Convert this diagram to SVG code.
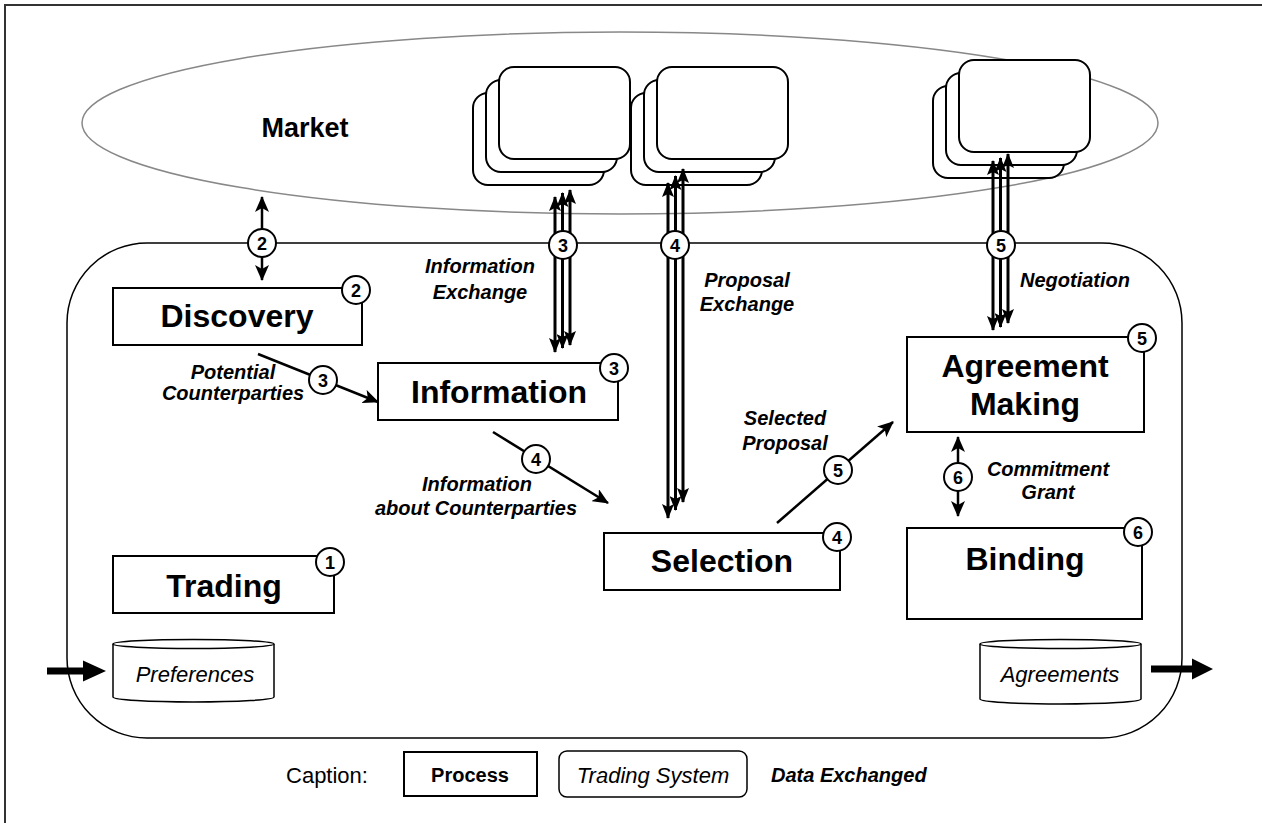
<svg xmlns="http://www.w3.org/2000/svg" width="1262" height="823" viewBox="0 0 1262 823">
  <style>
    text { font-family: "Liberation Sans", Arial, sans-serif; fill: #000; }
    .proc { fill: #fff; stroke: #000; stroke-width: 2; }
    .ptxt { font-size: 32px; font-weight: bold; text-anchor: middle; }
    .lbl { font-size: 20px; font-weight: bold; font-style: italic; text-anchor: middle; }
    .lbl-start { font-size: 20px; font-weight: bold; font-style: italic; text-anchor: start; }
    .badge { fill: #fff; stroke: #000; stroke-width: 2; }
    .btxt { font-size: 18px; font-weight: bold; text-anchor: middle; }
    .agent { fill: #fff; stroke: #000; stroke-width: 2; }
    .flow { fill: none; stroke: #000; stroke-width: 2.5; }
    .multi { fill: none; stroke: #000; stroke-width: 3; }
    .store { fill: #fff; stroke: #000; stroke-width: 1.5; }
    .stxt { font-size: 22px; font-style: italic; text-anchor: middle; }
  </style>
  <defs>
    <marker id="ah" viewBox="0 0 16 14" refX="15" refY="7" markerWidth="16" markerHeight="14" markerUnits="userSpaceOnUse" orient="auto-start-reverse">
      <path d="M0,0 L16,7 L0,14 L4,7 z" fill="#000"/>
    </marker>
    <marker id="ahs" viewBox="0 0 15 12" refX="14" refY="6" markerWidth="15" markerHeight="12" markerUnits="userSpaceOnUse" orient="auto-start-reverse">
      <path d="M0,0 L15,6 L0,12 L3,6 z" fill="#000"/>
    </marker>
    <g id="stack">
      <rect class="agent" x="0" y="26" width="131" height="92" rx="15"/>
      <rect class="agent" x="13" y="13" width="131" height="92" rx="15"/>
      <rect class="agent" x="26" y="0" width="131" height="92" rx="15"/>
    </g>
  </defs>

  <rect width="1262" height="823" fill="#fff"/>
  <!-- page frame -->
  <path d="M5,823 V5 H1262" fill="none" stroke="#333" stroke-width="2"/>

  <!-- market -->
  <g id="market">
    <ellipse cx="620" cy="123" rx="538" ry="91" fill="#fff" stroke="#888" stroke-width="1.5"/>
    <text x="305" y="137" font-size="27" font-weight="bold" text-anchor="middle">Market</text>
  </g>

  <!-- trading system boundary -->
  <g id="trading-system">
    <rect x="67" y="243" width="1115" height="495" rx="80" fill="none" stroke="#000" stroke-width="1.5"/>
  </g>

  <!-- counterpart agents in the market -->
  <g id="agents-info"><use href="#stack" x="473" y="67"/></g>
  <g id="agents-proposal"><use href="#stack" x="631" y="67"/></g>
  <g id="agents-negotiation"><use href="#stack" x="933" y="60"/></g>

  <!-- processes -->
  <g id="discovery">
    <rect class="proc" x="113" y="288" width="249" height="57"/>
    <text class="ptxt" x="237" y="327">Discovery</text>
    <circle class="badge" cx="356" cy="290" r="14"/>
    <text class="btxt" x="356" y="296.5">2</text>
  </g>
  <g id="information">
    <rect class="proc" x="378" y="363" width="240" height="57"/>
    <text class="ptxt" x="499" y="403">Information</text>
    <circle class="badge" cx="614" cy="368" r="14"/>
    <text class="btxt" x="614" y="374.5">3</text>
  </g>
  <g id="trading">
    <rect class="proc" x="113" y="556" width="221" height="57"/>
    <text class="ptxt" x="224" y="597">Trading</text>
    <circle class="badge" cx="330" cy="562" r="14"/>
    <text class="btxt" x="330" y="568.5">1</text>
  </g>
  <g id="selection">
    <rect class="proc" x="604" y="533" width="236" height="57"/>
    <text class="ptxt" x="722" y="572">Selection</text>
    <circle class="badge" cx="837" cy="537" r="14"/>
    <text class="btxt" x="837" y="543.5">4</text>
  </g>
  <g id="agreement-making">
    <rect class="proc" x="907" y="337" width="237" height="95"/>
    <text class="ptxt" x="1025" y="377">Agreement</text>
    <text class="ptxt" x="1025" y="415">Making</text>
    <circle class="badge" cx="1142" cy="338" r="14"/>
    <text class="btxt" x="1142" y="344.5">5</text>
  </g>
  <g id="binding">
    <rect class="proc" x="907" y="528" width="235" height="91"/>
    <text class="ptxt" x="1025" y="570">Binding</text>
    <circle class="badge" cx="1138" cy="532" r="14"/>
    <text class="btxt" x="1138" y="538.5">6</text>
  </g>

  <!-- data stores -->
  <g id="preferences">
    <path class="store" d="M113,644 V697 A80.5,5 0 0 0 274,697 V644"/>
    <ellipse class="store" cx="193.5" cy="644" rx="80.5" ry="4.5"/>
    <text class="stxt" x="195" y="682">Preferences</text>
  </g>
  <g id="agreements">
    <path class="store" d="M980,644 V699 A80.5,5 0 0 0 1141,699 V644"/>
    <ellipse class="store" cx="1060.5" cy="644" rx="80.5" ry="4.5"/>
    <text class="stxt" x="1060" y="682">Agreements</text>
  </g>

  <!-- connectors -->
  <g id="connectors">
    <!-- 2: discovery <-> market -->
    <line class="flow" x1="262" y1="197" x2="262" y2="280" marker-start="url(#ah)" marker-end="url(#ah)"/>
    <circle class="badge" cx="262" cy="243" r="14"/>
    <text class="btxt" x="262" y="249.5">2</text>

    <!-- 3: information exchange -->
    <line class="multi" x1="555" y1="197" x2="555" y2="352" marker-start="url(#ahs)" marker-end="url(#ahs)"/>
    <line class="multi" x1="562.5" y1="193" x2="562.5" y2="348" marker-start="url(#ahs)" marker-end="url(#ahs)"/>
    <line class="multi" x1="570" y1="190" x2="570" y2="345" marker-start="url(#ahs)" marker-end="url(#ahs)"/>
    <circle class="badge" cx="563" cy="245" r="14"/>
    <text class="btxt" x="563" y="251.5">3</text>
    <text class="lbl" x="480" y="273">Information</text>
    <text class="lbl" x="480" y="299">Exchange</text>

    <!-- 4: proposal exchange -->
    <line class="multi" x1="668" y1="183" x2="668" y2="518" marker-start="url(#ahs)" marker-end="url(#ahs)"/>
    <line class="multi" x1="675.5" y1="176" x2="675.5" y2="510" marker-start="url(#ahs)" marker-end="url(#ahs)"/>
    <line class="multi" x1="683" y1="169" x2="683" y2="502" marker-start="url(#ahs)" marker-end="url(#ahs)"/>
    <circle class="badge" cx="675" cy="245" r="14"/>
    <text class="btxt" x="675" y="251.5">4</text>
    <text class="lbl" x="747" y="287">Proposal</text>
    <text class="lbl" x="747" y="311">Exchange</text>

    <!-- 5: negotiation -->
    <line class="multi" x1="993" y1="161" x2="993" y2="330" marker-start="url(#ahs)" marker-end="url(#ahs)"/>
    <line class="multi" x1="1000.5" y1="158" x2="1000.5" y2="327" marker-start="url(#ahs)" marker-end="url(#ahs)"/>
    <line class="multi" x1="1008" y1="154" x2="1008" y2="323" marker-start="url(#ahs)" marker-end="url(#ahs)"/>
    <circle class="badge" cx="1001" cy="245" r="14"/>
    <text class="btxt" x="1001" y="251.5">5</text>
    <text class="lbl-start" x="1020" y="287">Negotiation</text>

    <!-- 3: potential counterparties -->
    <line class="flow" x1="258" y1="354" x2="378" y2="402" marker-end="url(#ah)"/>
    <circle class="badge" cx="323" cy="380" r="14"/>
    <text class="btxt" x="323" y="386.5">3</text>
    <text class="lbl" x="233" y="379">Potential</text>
    <text class="lbl" x="233" y="400">Counterparties</text>

    <!-- 4: information about counterparties -->
    <line class="flow" x1="493" y1="432" x2="608" y2="503" marker-end="url(#ah)"/>
    <circle class="badge" cx="536" cy="459" r="14"/>
    <text class="btxt" x="536" y="465.5">4</text>
    <text class="lbl" x="477" y="491">Information</text>
    <text class="lbl" x="476" y="515">about Counterparties</text>

    <!-- 5: selected proposal -->
    <line class="flow" x1="777" y1="523" x2="893" y2="422" marker-end="url(#ah)"/>
    <circle class="badge" cx="838" cy="470" r="14"/>
    <text class="btxt" x="838" y="476.5">5</text>
    <text class="lbl" x="785" y="425">Selected</text>
    <text class="lbl" x="785" y="450">Proposal</text>

    <!-- 6: commitment grant -->
    <line class="flow" x1="958" y1="437" x2="958" y2="516" marker-start="url(#ah)" marker-end="url(#ah)"/>
    <circle class="badge" cx="958" cy="477" r="14"/>
    <text class="btxt" x="958" y="483.5">6</text>
    <text class="lbl" x="1048" y="476">Commitment</text>
    <text class="lbl" x="1048" y="499">Grant</text>

    <!-- system input and output -->
    <path d="M47,667.5 H83 V660.5 L106,671 L83,681.5 V674.5 H47 z" fill="#000"/>
    <path d="M1151,665.5 H1192 V658.5 L1213,669 L1192,679.5 V672.5 H1151 z" fill="#000"/>
  </g>

  <!-- legend -->
  <g id="legend">
    <text x="327" y="783" font-size="22" text-anchor="middle">Caption:</text>
    <rect class="proc" x="404" y="752" width="133" height="44" stroke-width="1.5"/>
    <text x="470" y="782" font-size="20" font-weight="bold" text-anchor="middle">Process</text>
    <rect x="559" y="751" width="188" height="46" rx="8" fill="#fff" stroke="#000" stroke-width="1.5"/>
    <text x="653" y="783" font-size="22" font-style="italic" text-anchor="middle">Trading System</text>
    <text x="771" y="782" font-size="20" font-weight="bold" font-style="italic">Data Exchanged</text>
  </g>
</svg>
